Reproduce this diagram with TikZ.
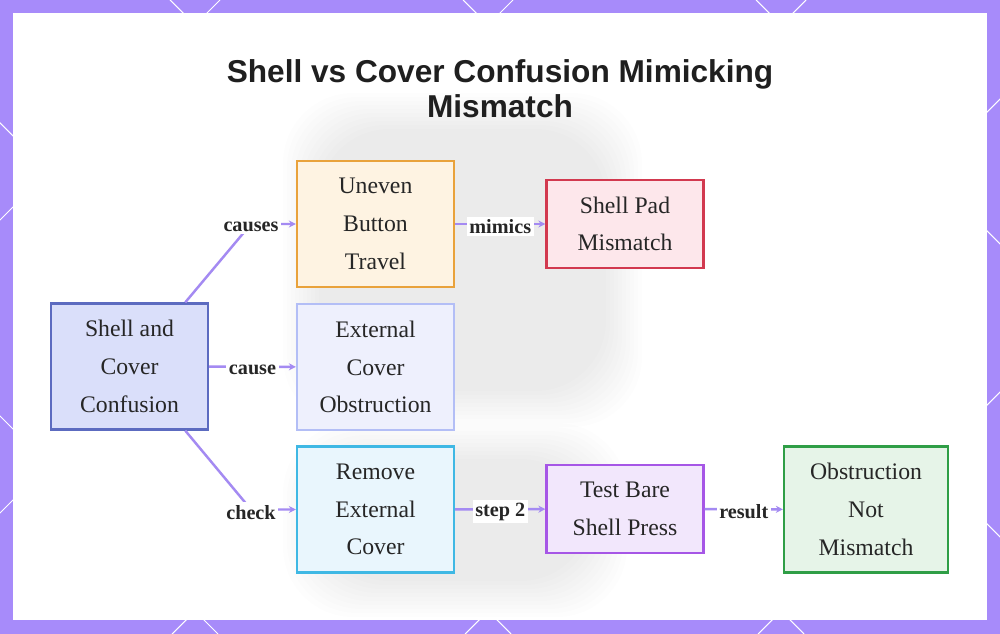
\documentclass[tikz,border=0pt]{standalone}
\usepackage{fontspec}
\setmainfont{Liberation Serif}
\newfontfamily\titlefont{Liberation Sans}
\usetikzlibrary{arrows.meta}

\definecolor{frame}{HTML}{A78BFA}
\definecolor{flowc}{HTML}{A48AF2}
\definecolor{scdraw}{HTML}{5C6BC0}
\definecolor{scfill}{HTML}{DADFFA}
\definecolor{ubdraw}{HTML}{E9A23B}
\definecolor{ubfill}{HTML}{FEF3E2}
\definecolor{ecdraw}{HTML}{B3BEF6}
\definecolor{ecfill}{HTML}{EEF0FD}
\definecolor{redraw}{HTML}{3FB8E4}
\definecolor{refill}{HTML}{E9F6FD}
\definecolor{spdraw}{HTML}{D2394F}
\definecolor{spfill}{HTML}{FDE7EB}
\definecolor{tbdraw}{HTML}{A656E6}
\definecolor{tbfill}{HTML}{F2E7FC}
\definecolor{obdraw}{HTML}{2F9E46}
\definecolor{obfill}{HTML}{E6F4E8}

\tikzset{
  box/.style={draw,line width=1.3pt,rectangle,align=center,inner sep=2pt,
    minimum width=3.14cm,minimum height=2.52cm,
    font=\fontsize{13.5}{21.5}\selectfont,text=black!85},
  lowbox/.style={box,minimum height=1.76cm},
  flow/.style={draw=flowc,line width=1.4pt,-{Stealth[length=4pt,width=4pt]}},
  lbl/.style={fill=white,inner sep=1.5pt,yshift=-1.5pt,text=black!85,
    font=\fontsize{11.5}{13}\selectfont\bfseries}
}

\begin{document}
\begin{tikzpicture}[x=0.02cm,y=-0.02cm]
  \useasboundingbox (0,0) rectangle (1000,634);
  % frame with lattice
  \fill[frame] (0,0) rectangle (1000,634);
  \begin{scope}
    \clip (0,0) rectangle (1000,634);
    \foreach \k in {-3,...,4}
      \draw[white,line width=0.6pt] ({170+293*\k},0) -- ({170+293*\k+634},634);
    \foreach \k in {0,...,4}
      \draw[white,line width=0.6pt] ({220+293*\k},0) -- ({220+293*\k-634},634);
  \end{scope}
  \fill[white] (13,13) rectangle (987,620);
  % faded photo behind
  \foreach \i in {0,...,9} {
    \fill[black,opacity=0.009,rounded corners=40] ({283+4*\i},{93+4*\i}) rectangle ({642-4*\i},{427-4*\i});
    \fill[black,opacity=0.009,rounded corners=40] ({283+4*\i},{423+4*\i}) rectangle ({627-4*\i},{617-4*\i});
  }

  \node[font=\titlefont\fontsize{18}{20}\selectfont\bfseries,text=black!88,align=center]
    (title) at (500,89) {Shell vs Cover Confusion Mimicking\\Mismatch};

  % nodes
  \node[box,draw=scdraw,fill=scfill] (SC) at (129.5,366.5) {Shell and\\Cover\\Confusion};
  \node[box,draw=ubdraw,fill=ubfill] (UB) at (375.5,224) {Uneven\\Button\\Travel};
  \node[box,draw=ecdraw,fill=ecfill] (EC) at (375.5,367) {External\\Cover\\Obstruction};
  \node[box,draw=redraw,fill=refill] (RE) at (375.5,509.5) {Remove\\External\\Cover};
  \node[lowbox,draw=spdraw,fill=spfill] (SP) at (625,224) {Shell Pad\\Mismatch};
  \node[lowbox,draw=tbdraw,fill=tbfill] (TB) at (625,509) {Test Bare\\Shell Press};
  \node[box,draw=obdraw,fill=obfill,minimum width=3.28cm] (OB) at (866,509.5) {Obstruction\\Not\\Mismatch};

  % connectors
  \coordinate (bUp) at (251,224);
  \coordinate (bDown) at (251,509.5);
  \draw[flow] (SC.49) -- (bUp) node[lbl] {causes} -- (UB.west);
  \draw[flow] (SC) -- node[lbl] {cause} (EC);
  \draw[flow] (SC.-49) -- (bDown) node[lbl] {check} -- (RE.west);
  \draw[flow] (UB) -- node[lbl] {mimics} (SP);
  \draw[flow] (RE) -- node[lbl] {step 2} (TB);
  \draw[flow] (TB) -- node[lbl] {result} (OB);
\end{tikzpicture}
\end{document}
